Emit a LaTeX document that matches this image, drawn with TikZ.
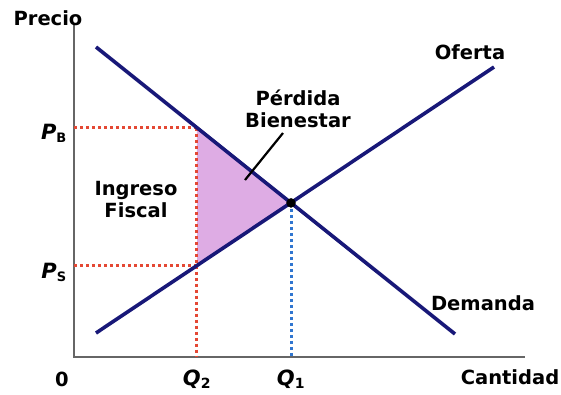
\documentclass[tikz,border=0pt]{standalone}
\usepackage{fontspec}
\setmainfont{DejaVu Sans}
\usetikzlibrary{calc}

\definecolor{navy}{RGB}{24,24,120}
\definecolor{lila}{RGB}{222,172,228}
\definecolor{rojo}{RGB}{228,72,52}
\definecolor{azul}{RGB}{48,118,208}

\begin{document}
\begin{tikzpicture}[
  x=1pt, y=-1pt,
  curve/.style={navy, line width=3.6pt},
  axis/.style={black!60, line width=1.6pt},
  redguide/.style={rojo, line width=3pt, dash pattern=on 3pt off 3pt},
  blueguide/.style={azul, line width=3pt, dash pattern=on 3pt off 3pt},
  lbl/.style={font=\bfseries\fontsize{19.5}{22}\selectfont, inner sep=0pt},
  sym/.style={font=\bfseries\itshape\fontsize{21}{22}\selectfont, inner sep=0pt},
]
  \useasboundingbox (0,0) rectangle (561,394);

  \coordinate (O) at (74,357);
  \coordinate (Ytop) at (74,24);
  \coordinate (Xend) at (525,357);
  % demanda y oferta
  \coordinate (D0) at (96,47);
  \coordinate (D1) at (455,334);
  \coordinate (S0) at (96,333);
  \coordinate (S1) at (494,67);
  \coordinate (E) at ($(D0)!0.5432!(D1)$);
  \coordinate (PB) at ($(D0)!0.2813!(D1)$);
  \coordinate (PS) at ($(S0)!0.2538!(S1)$);
  \coordinate (Q2) at (PB |- O);
  \coordinate (Q1) at (E |- O);
  \coordinate (PBy) at (O |- PB);
  \coordinate (PSy) at (O |- PS);

  % triangulo de perdida
  \fill[lila] (PB) -- (E) -- (PS) -- cycle;

  \draw[axis] (Ytop) -- (O) -- (Xend);

  % lineas punteadas
  \draw[redguide] (PBy) -- (PB);
  \draw[redguide] (PSy) -- (PS);
  \draw[redguide] (PB) -- (Q2);
  \draw[blueguide] (E) -- (Q1);

  \draw[curve] (D0) -- (D1);
  \draw[curve] (S0) -- (S1);
  \filldraw (E) circle (4.5pt);

  % flecha de la etiqueta
  \coordinate (ptr) at (245,180);
  \node[lbl, align=center] (perdida) at (298,109) {Pérdida\\Bienestar};
  \draw[line width=2.2pt] (283,133) -- (ptr);

  \node[lbl, align=center] (ingreso) at (136,200) {Ingreso\\Fiscal};
  \node[lbl] (precio) at (48,18) {Precio};
  \node[lbl] (oferta) at (470,52) {Oferta};
  \node[lbl] (demanda) at (483,303) {Demanda};
  \node[lbl] (cantidad) at (510,377) {Cantidad};
  \node[lbl] (cero) at (62,379) {0};
  \node[sym] (pb) at (54,133) {P\textsubscript{\upshape\bfseries\fontsize{13}{13}\selectfont B}};
  \node[sym] (ps) at (54,272) {P\textsubscript{\upshape\bfseries\fontsize{13}{13}\selectfont S}};
  \node[sym] (q2) at (Q2 |- cero) {Q\textsubscript{\upshape\bfseries\fontsize{14}{14}\selectfont 2}};
  \node[sym] (q1) at (Q1 |- cero) {Q\textsubscript{\upshape\bfseries\fontsize{14}{14}\selectfont 1}};
\end{tikzpicture}
\end{document}
